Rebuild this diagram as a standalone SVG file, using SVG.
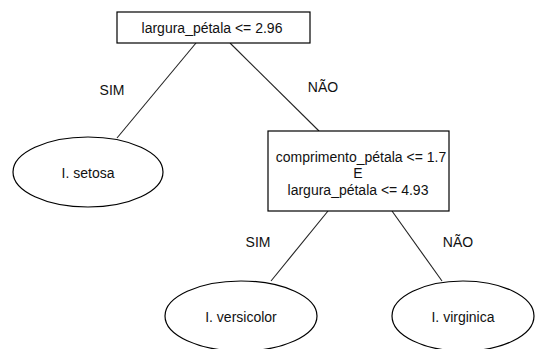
<svg xmlns="http://www.w3.org/2000/svg" width="536" height="349" viewBox="0 0 536 349">
<style>
.n{fill:#fff;stroke:#000;stroke-width:1.2}
.e{stroke:#222;stroke-width:1.1;fill:none}
text{font-family:"Liberation Sans",Arial,sans-serif;font-size:14px;fill:#111;text-anchor:middle}
</style>
<rect width="536" height="349" fill="#fff"/>
<g id="connectors">
<line class="e" x1="196" y1="43" x2="117" y2="138"/>
<line class="e" x1="230" y1="43" x2="319" y2="131"/>
<line class="e" x1="328" y1="211" x2="271" y2="281"/>
<line class="e" x1="392" y1="211" x2="442" y2="281"/>
<text x="112" y="95">SIM</text>
<text x="323" y="92">NÃO</text>
<text x="258" y="247">SIM</text>
<text x="458" y="247">NÃO</text>
</g>
<g id="root">
<rect class="n" x="117" y="12" width="193" height="31"/>
<text x="212" y="33">largura_pétala &lt;= 2.96</text>
</g>
<g id="setosa">
<ellipse class="n" cx="88" cy="172" rx="75" ry="35"/>
<text x="88" y="178">I. setosa</text>
</g>
<g id="cond2">
<rect class="n" x="268" y="131" width="181" height="80"/>
<text x="361" y="162">comprimento_pétala &lt;= 1.7</text>
<text x="358" y="178">E</text>
<text x="358" y="195">largura_pétala &lt;= 4.93</text>
</g>
<g id="versicolor">
<ellipse class="n" cx="241" cy="316" rx="76" ry="35"/>
<text x="241" y="322">I. versicolor</text>
</g>
<g id="virginica">
<ellipse class="n" cx="463" cy="316" rx="71" ry="35"/>
<text x="463" y="322">I. virginica</text>
</g>
</svg>
